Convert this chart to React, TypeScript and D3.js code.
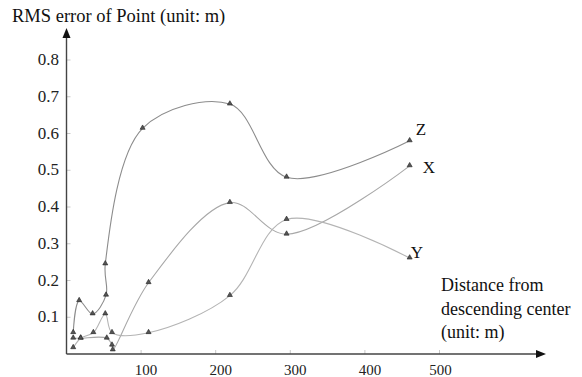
import * as React from 'react'
import { useEffect, useRef } from 'react'
import * as d3 from 'd3'

// distance from descending center (m) and RMS error (m)
const zDistance = [9, 17, 35, 53, 52, 102, 219, 295, 460]
const zError = [0.058, 0.145, 0.109, 0.16, 0.245, 0.614, 0.68, 0.481, 0.58]

const xDistance = [9, 19, 54, 61, 62, 110, 219, 295, 460]
const xError = [0.043, 0.043, 0.043, 0.024, 0.011, 0.194, 0.412, 0.326, 0.512]

const yDistance = [9, 19, 36, 52, 61, 110, 219, 295, 460]
const yError = [0.017, 0.043, 0.058, 0.109, 0.058, 0.058, 0.159, 0.366, 0.261]

const xTicks = [100, 200, 300, 400, 500]
const yTicks = [0.1, 0.2, 0.3, 0.4, 0.5, 0.6, 0.7, 0.8]

const series = [
  { name: 'Z', dist: zDistance, err: zError, color: '#8c8c8c', dx: 6, dy: -6 },
  { name: 'X', dist: xDistance, err: xError, color: '#a8a8a8', dx: 13, dy: 7 },
  { name: 'Y', dist: yDistance, err: yError, color: '#b4b4b4', dx: 1, dy: 0 },
]

const FONT = 'Liberation Serif, Times New Roman, serif'

export default function App() {
  const svgRef = useRef<SVGSVGElement>(null)
  const width = 582
  const height = 377

  useEffect(() => {
    if (!svgRef.current) return
    const svg = d3.select(svgRef.current)
    svg.selectAll('*').remove()

    const x = d3.scaleLinear().domain([0, 500]).range([66.5, 439.5])
    const y = d3.scaleLinear().domain([0, 0.8]).range([354, 60])

    svg.append('rect').attr('width', width).attr('height', height).attr('fill', '#fff')

    // title
    svg.append('text')
      .attr('x', 12)
      .attr('y', 22)
      .style('font-family', FONT)
      .style('font-size', '18.5px')
      .attr('fill', '#111')
      .text('RMS error of Point (unit: m)')

    // ticks (light, inside the axes)
    yTicks.forEach(t => {
      svg.append('line')
        .attr('x1', x(0)).attr('x2', x(0) + 4)
        .attr('y1', y(t)).attr('y2', y(t))
        .attr('stroke', '#c8c8c8')
      svg.append('text')
        .attr('x', 59)
        .attr('y', y(t) + 5)
        .attr('text-anchor', 'end')
        .style('font-family', FONT)
        .style('font-size', '17px')
        .attr('fill', '#222')
        .text(d3.format('.1f')(t))
    })

    xTicks.forEach(t => {
      svg.append('line')
        .attr('x1', x(t)).attr('x2', x(t))
        .attr('y1', y(0)).attr('y2', y(0) - 4)
        .attr('stroke', '#c8c8c8')
      svg.append('text')
        .attr('x', x(t) + (t === 500 ? 1 : 5))
        .attr('y', 375)
        .attr('text-anchor', 'middle')
        .style('font-family', FONT)
        .style('font-size', '15px')
        .attr('fill', '#222')
        .text(t)
    })

    // axes with arrows
    svg.append('line')
      .attr('x1', x(0)).attr('x2', x(0))
      .attr('y1', y(0)).attr('y2', 34)
      .attr('stroke', '#444').attr('stroke-width', 1.4)
    svg.append('path')
      .attr('d', `M${x(0)},28 L${x(0) - 4},38 L${x(0) + 4},38 Z`)
      .attr('fill', '#111')

    svg.append('line')
      .attr('x1', x(0)).attr('x2', 540)
      .attr('y1', y(0)).attr('y2', y(0))
      .attr('stroke', '#444').attr('stroke-width', 1.4)
    svg.append('path')
      .attr('d', `M546,${y(0)} L536,${y(0) - 4} L536,${y(0) + 4} Z`)
      .attr('fill', '#111')

    // x axis caption
    const caption = ['Distance from', 'descending center', '(unit: m)']
    caption.forEach((line, i) => {
      svg.append('text')
        .attr('x', 441)
        .attr('y', 291 + i * 23.5)
        .style('font-family', FONT)
        .style('font-size', '18px')
        .attr('fill', '#111')
        .text(line)
    })

    const line = d3.line<[number, number]>()
      .x(d => x(d[0]))
      .y(d => y(d[1]))
      .curve(d3.curveCatmullRom.alpha(0.5))

    const tri = d3.symbol().type(d3.symbolTriangle).size(11)

    series.forEach(s => {
      const pts = s.dist.map((d, i) => [d, s.err[i]] as [number, number])

      svg.append('path')
        .datum(pts)
        .attr('d', line)
        .attr('fill', 'none')
        .attr('stroke', s.color)
        .attr('stroke-width', 1.1)

      svg.append('g')
        .selectAll('path')
        .data(pts)
        .join('path')
        .attr('d', tri)
        .attr('transform', d => `translate(${x(d[0])},${y(d[1]) - 0.5})`)
        .attr('fill', '#555')
        .attr('stroke', '#222')
        .attr('stroke-width', 0.6)

      const last = pts[pts.length - 1]
      svg.append('text')
        .attr('x', x(last[0]) + s.dx)
        .attr('y', y(last[1]) + s.dy)
        .style('font-family', FONT)
        .style('font-size', '17px')
        .attr('fill', '#111')
        .text(s.name)
    })
  }, [])

  return (
    <svg
      ref={svgRef}
      width={width}
      height={height}
      style={{ position: 'absolute', left: 0, top: 0, background: '#fff' }}
    />
  )
}
